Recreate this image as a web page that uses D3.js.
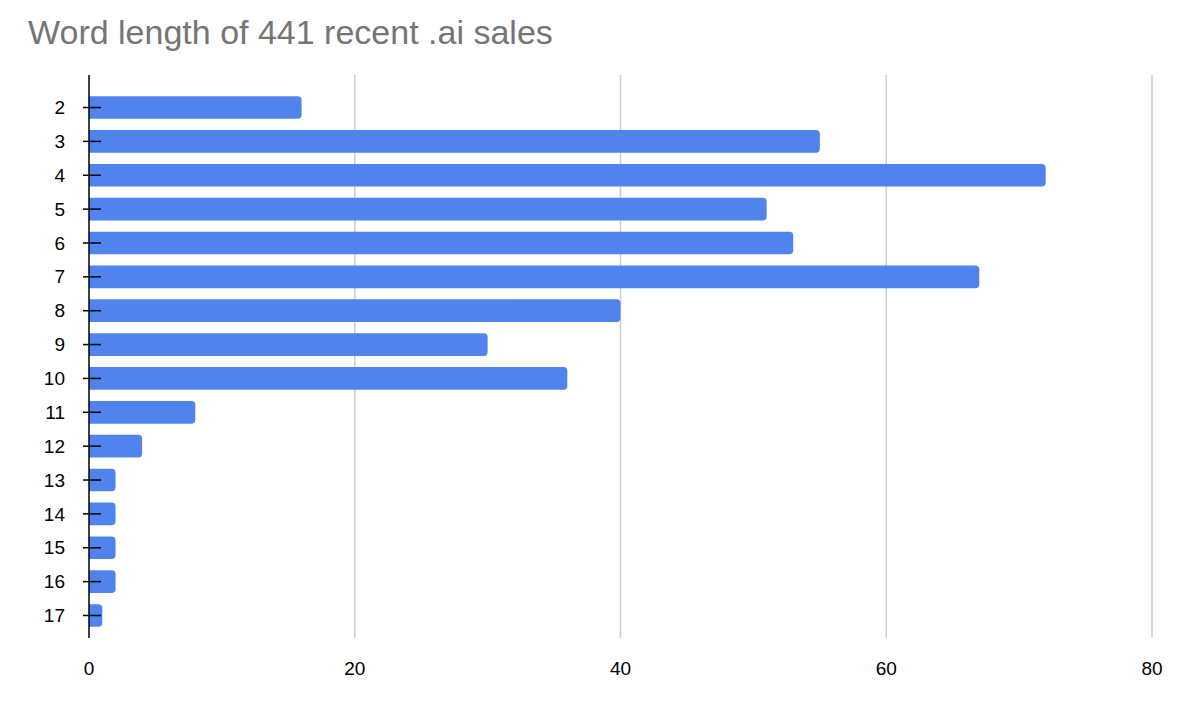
<!DOCTYPE html>
<html>
<head>
<meta charset="utf-8">
<script src="https://cdn.jsdelivr.net/npm/d3@7"></script>
<style>
  body { margin: 0; background: #fff; }
  text { font-family: Arial, "Liberation Sans", sans-serif; }
</style>
</head>
<body>
<svg class="chart"></svg>
<script>
var lengths = ["2", "3", "4", "5", "6", "7", "8", "9", "10", "11", "12", "13", "14", "15", "16", "17"];
var counts = [16, 55, 72, 51, 53, 67, 40, 30, 36, 8, 4, 2, 2, 2, 2, 1];
var xTicks = [0, 20, 40, 60, 80];

var width = 1178, height = 704;
var margin = {top: 85, right: 26, bottom: 66, left: 89};

var chart = d3.select(".chart")
    .attr("width", width)
    .attr("height", height);

var x = d3.scaleLinear()
    .domain([0, 80])
    .range([margin.left, width - margin.right]);

var y = d3.scaleBand()
    .domain(lengths)
    .range([margin.top, height - margin.bottom])
    .padding(0.33);

// gridlines
chart.append("g")
  .selectAll("line")
  .data(xTicks.slice(1))
  .enter().append("line")
    .attr("x1", function(d) { return x(d); })
    .attr("x2", function(d) { return x(d); })
    .attr("y1", margin.top - 10)
    .attr("y2", height - margin.bottom)
    .attr("stroke", "#cccccc")
    .attr("stroke-width", 1.5);

// bars, rounded on the right end
var r = 4;
chart.append("g")
  .selectAll("path")
  .data(lengths)
  .enter().append("path")
    .attr("fill", "#5083ec")
    .attr("d", function(d, i) {
      var x0 = x(0), x1 = x(counts[i]), y0 = y(d), h = y.bandwidth();
      var rr = Math.min(r, (x1 - x0));
      return "M" + x0 + "," + y0 +
             "H" + (x1 - rr) +
             "A" + rr + "," + rr + " 0 0 1 " + x1 + "," + (y0 + rr) +
             "V" + (y0 + h - rr) +
             "A" + rr + "," + rr + " 0 0 1 " + (x1 - rr) + "," + (y0 + h) +
             "H" + x0 + "Z";
    });

// y axis line and ticks
chart.append("line")
    .attr("x1", x(0)).attr("x2", x(0))
    .attr("y1", margin.top - 10).attr("y2", height - margin.bottom)
    .attr("stroke", "#000").attr("stroke-width", 1.5);

var yAxis = chart.append("g");
yAxis.selectAll("line")
  .data(lengths)
  .enter().append("line")
    .attr("x1", x(0) - 6).attr("x2", x(0) + 12)
    .attr("y1", function(d) { return y(d) + y.bandwidth() / 2; })
    .attr("y2", function(d) { return y(d) + y.bandwidth() / 2; })
    .attr("stroke", "#000").attr("stroke-width", 1.5);
yAxis.selectAll("text")
  .data(lengths)
  .enter().append("text")
    .attr("x", x(0) - 24)
    .attr("y", function(d) { return y(d) + y.bandwidth() / 2; })
    .attr("dy", "0.35em")
    .attr("text-anchor", "end")
    .style("font-size", "19px")
    .text(function(d) { return d; });

// x labels
chart.append("g")
  .selectAll("text")
  .data(xTicks)
  .enter().append("text")
    .attr("x", function(d) { return x(d); })
    .attr("y", 675)
    .attr("text-anchor", "middle")
    .style("font-size", "19px")
    .text(function(d) { return d; });

chart.append("text")
    .attr("x", 28)
    .attr("y", 44)
    .style("font-size", "34px")
    .attr("fill", "#757575")
    .text("Word length of 441 recent .ai sales");
</script>
</body>
</html>
